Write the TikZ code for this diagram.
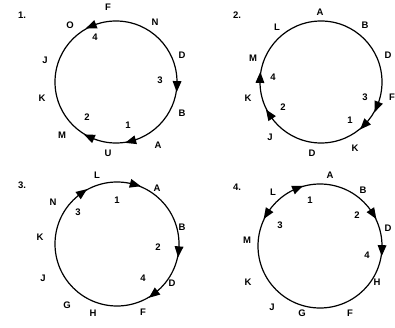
\documentclass[tikz,border=0pt]{standalone}
\usepackage{fontspec}
\setmainfont{Liberation Sans}
\usetikzlibrary{shapes.geometric}
\tikzset{
  ring/.style={draw=black, line width=1.2pt},
  lbl/.style={font=\fontsize{9.5}{10}\selectfont\bfseries, inner sep=0pt},
  tri/.style={shape=isosceles triangle, isosceles triangle stretches=true, fill=black, draw=none,
              minimum width=9pt, minimum height=11pt, inner sep=0pt}
}
% #1 centre name, #2 visual angle, #3 radius, #4 rotation offset (-90 cw, 90 ccw), #5 name
\newcommand\arrhead[5]{\path (#1) ++(-#2:#3) node[tri, rotate=#2+#4] (#5) {};}
\begin{document}
\begin{tikzpicture}[x=1pt,y=-1pt]
\useasboundingbox (0,0) rectangle (395,328);
% circle 1
\coordinate (c1) at (116,82);
\draw[ring] (c1) circle (61);
\arrhead{c1}{-2}{61}{-90}{a13}
\arrhead{c1}{-74}{61}{-90}{a11}
\arrhead{c1}{-114}{61}{-90}{a12}
\arrhead{c1}{112}{61}{90}{a14}
\node[lbl] (t1) at (22,15) {1.};
\node[lbl] (F1) at (108,7) {F};
\node[lbl] (N1) at (155,22) {N};
\node[lbl] (D1) at (182,55) {D};
\node[lbl] (B1) at (182,113) {B};
\node[lbl] (A1) at (158,145) {A};
\node[lbl] (U1) at (108,153) {U};
\node[lbl] (M1) at (62,135) {M};
\node[lbl] (K1) at (42,98) {K};
\node[lbl] (J1) at (45,60) {J};
\node[lbl] (O1) at (70,25) {O};
\node[lbl] (n14) at (95,37) {4};
\node[lbl] (n13) at (160,80) {3};
\node[lbl] (n11) at (128,125) {1};
\node[lbl] (n12) at (87,117) {2};
% circle 2
\coordinate (c2) at (321,82);
\draw[ring] (c2) circle (61);
\arrhead{c2}{178}{61}{-90}{a24}
\arrhead{c2}{-146}{61}{-90}{a22}
\arrhead{c2}{-22}{61}{-90}{a23}
\arrhead{c2}{-43}{61}{-90}{a21}
\node[lbl] (t2) at (237,15) {2.};
\node[lbl] (A2) at (320,12) {A};
\node[lbl] (B2) at (365,25) {B};
\node[lbl] (D2) at (388,55) {D};
\node[lbl] (F2) at (392,97) {F};
\node[lbl] (L2) at (277,27) {L};
\node[lbl] (M2) at (253,58) {M};
\node[lbl] (K2) at (248,98) {K};
\node[lbl] (J2) at (270,137) {J};
\node[lbl] (D2b) at (312,153) {D};
\node[lbl] (K2b) at (355,148) {K};
\node[lbl] (n24) at (273,77) {4};
\node[lbl] (n22) at (283,107) {2};
\node[lbl] (n23) at (365,97) {3};
\node[lbl] (n21) at (350,120) {1};
% circle 3
\coordinate (c3) at (117,244);
\draw[ring] (c3) circle (62);
\arrhead{c3}{75}{62}{-90}{a31}
\arrhead{c3}{126}{62}{-90}{a33}
\arrhead{c3}{-5}{62}{-90}{a32}
\arrhead{c3}{-52}{62}{-90}{a34}
\node[lbl] (t3) at (22,185) {3.};
\node[lbl] (L3) at (97,175) {L};
\node[lbl] (A3) at (157,188) {A};
\node[lbl] (B3) at (182,227) {B};
\node[lbl] (D3) at (172,283) {D};
\node[lbl] (F3) at (143,312) {F};
\node[lbl] (H3) at (93,313) {H};
\node[lbl] (G3) at (67,305) {G};
\node[lbl] (J3) at (43,278) {J};
\node[lbl] (K3) at (40,237) {K};
\node[lbl] (N3) at (53,202) {N};
\node[lbl] (n31) at (117,200) {1};
\node[lbl] (n33) at (78,212) {3};
\node[lbl] (n32) at (158,247) {2};
\node[lbl] (n34) at (143,278) {4};
% circle 4
\coordinate (c4) at (320,246);
\draw[ring] (c4) circle (62);
\arrhead{c4}{113}{62}{-90}{a41}
\arrhead{c4}{147}{62}{90}{a43}
\arrhead{c4}{33}{62}{-90}{a42}
\arrhead{c4}{-2}{62}{-90}{a44}
\node[lbl] (t4) at (237,187) {4.};
\node[lbl] (L4) at (273,192) {L};
\node[lbl] (A4) at (330,175) {A};
\node[lbl] (B4) at (363,190) {B};
\node[lbl] (D4) at (388,228) {D};
\node[lbl] (H4) at (377,282) {H};
\node[lbl] (F4) at (350,313) {F};
\node[lbl] (G4) at (302,313) {G};
\node[lbl] (J4) at (272,307) {J};
\node[lbl] (K4) at (248,282) {K};
\node[lbl] (M4) at (247,240) {M};
\node[lbl] (n41) at (310,200) {1};
\node[lbl] (n43) at (280,225) {3};
\node[lbl] (n42) at (357,215) {2};
\node[lbl] (n44) at (367,255) {4};
\end{tikzpicture}
\end{document}
